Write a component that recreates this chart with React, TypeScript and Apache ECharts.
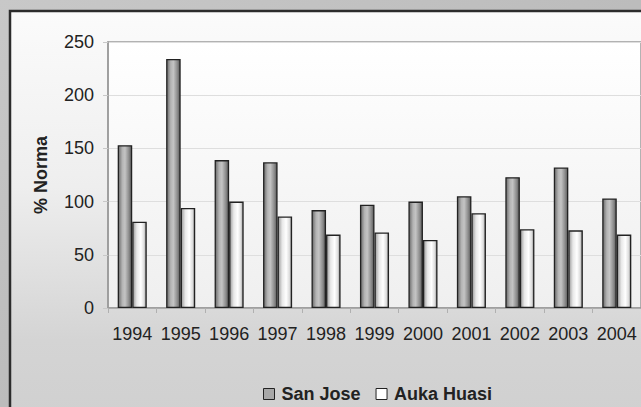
import React, { useEffect, useRef } from "react";
import * as echarts from "echarts";

const years = ["1994", "1995", "1996", "1997", "1998", "1999", "2000", "2001", "2002", "2003", "2004"];
const sanJose = [153, 234, 139, 137, 92, 97, 100, 105, 123, 132, 103];
const aukaHuasi = [81, 94, 100, 86, 69, 71, 64, 89, 74, 73, 69];
const seriesNames = ["San Jose", "Auka Huasi"];
const yAxisTitle = "% Norma";

const FONT = "'Liberation Sans', Arial, Helvetica, sans-serif";

export default function App() {
  const ref = useRef<HTMLDivElement>(null);
  useEffect(() => {
    if (!ref.current) return;
    const chart = echarts.init(ref.current, undefined, { renderer: "svg" });
    const grayBar = new echarts.graphic.LinearGradient(0, 0, 1, 0, [
      { offset: 0, color: "#6a6a6a" },
      { offset: 0.3, color: "#b4b4b4" },
      { offset: 0.5, color: "#c4c4c4" },
      { offset: 0.8, color: "#8c8c8c" },
      { offset: 1, color: "#5a5a5a" },
    ]);
    const whiteBar = new echarts.graphic.LinearGradient(0, 0, 1, 0, [
      { offset: 0, color: "#9a9a9a" },
      { offset: 0.3, color: "#e8e8e8" },
      { offset: 0.6, color: "#ffffff" },
      { offset: 0.85, color: "#dcdcdc" },
      { offset: 1, color: "#8a8a8a" },
    ]);
    chart.setOption({
      animation: false,
      backgroundColor: new echarts.graphic.LinearGradient(0, 0, 1, 1, [
        { offset: 0, color: "#c8c8c8" },
        { offset: 0.5, color: "#bcbcbc" },
        { offset: 1, color: "#b4b4b4" },
      ]),
      textStyle: { fontFamily: FONT },
      graphic: [
        {
          type: "rect",
          z: -10,
          shape: { x: 10, y: 11, width: 680, height: 440 },
          style: {
            fill: new echarts.graphic.LinearGradient(0, 0, 0, 1, [
              { offset: 0, color: "#fbfbfb" },
              { offset: 0.4, color: "#eeeeee" },
              { offset: 0.75, color: "#d4d4d4" },
              { offset: 1, color: "#cecece" },
            ]),
            stroke: "#2c2c2c",
            lineWidth: 2.5,
          },
        },
        {
          type: "text",
          x: 41,
          y: 175,
          rotation: Math.PI / 2,
          style: {
            text: yAxisTitle,
            font: `bold 18px ${FONT}`,
            fill: "#222",
            align: "center",
            verticalAlign: "middle",
          },
        },
      ],
      grid: {
        left: 108,
        top: 42,
        bottom: 99,
        right: -1,
        show: true,
        backgroundColor: new echarts.graphic.LinearGradient(0, 0, 0, 1, [
          { offset: 0, color: "#ffffff" },
          { offset: 1, color: "#efefef" },
        ]),
        borderColor: "#9a9a9a",
        borderWidth: 1.5,
      },
      legend: {
        data: [
          { name: seriesNames[0], itemStyle: { color: "#a8a8a8", borderColor: "#222", borderWidth: 1 } },
          { name: seriesNames[1], itemStyle: { color: "#ffffff", borderColor: "#222", borderWidth: 1 } },
        ],
        left: 258,
        top: 380,
        icon: "rect",
        itemWidth: 11,
        itemHeight: 11,
        itemGap: 15,
        textStyle: { fontSize: 18, fontWeight: "bold", color: "#222", fontFamily: FONT, padding: [0, 0, 0, 2] },
      },
      xAxis: {
        type: "category",
        data: years,
        axisLine: { show: true, lineStyle: { color: "#9a9a9a", width: 1.5 } },
        axisTick: { show: true, length: 5, lineStyle: { color: "#b0b0b0" } },
        axisLabel: { interval: 0, fontSize: 18, color: "#222", margin: 17, fontFamily: FONT },
      },
      yAxis: {
        type: "value",
        min: 0,
        max: 250,
        interval: 50,
        axisLine: { show: true, lineStyle: { color: "#9a9a9a", width: 1.5 } },
        axisTick: { show: true, length: 5, lineStyle: { color: "#c8c8c8" } },
        axisLabel: { fontSize: 18, color: "#222", margin: 14, fontFamily: FONT },
        splitLine: { show: true, lineStyle: { color: "#dedede", width: 1.2 } },
      },
      series: [
        {
          name: seriesNames[0],
          type: "bar",
          data: sanJose,
          barGap: "0%",
          barCategoryGap: "40%",
          itemStyle: { color: grayBar, borderColor: "#222", borderWidth: 1.3 },
        },
        {
          name: seriesNames[1],
          type: "bar",
          data: aukaHuasi,
          barGap: "0%",
          barCategoryGap: "40%",
          itemStyle: { color: whiteBar, borderColor: "#222", borderWidth: 1.3 },
        },
      ],
    });
    return () => chart.dispose();
  }, []);
  return (
    <div
      ref={ref}
      style={{ position: "absolute", left: 0, top: 0, width: 641, height: 407 }}
    />
  );
}
